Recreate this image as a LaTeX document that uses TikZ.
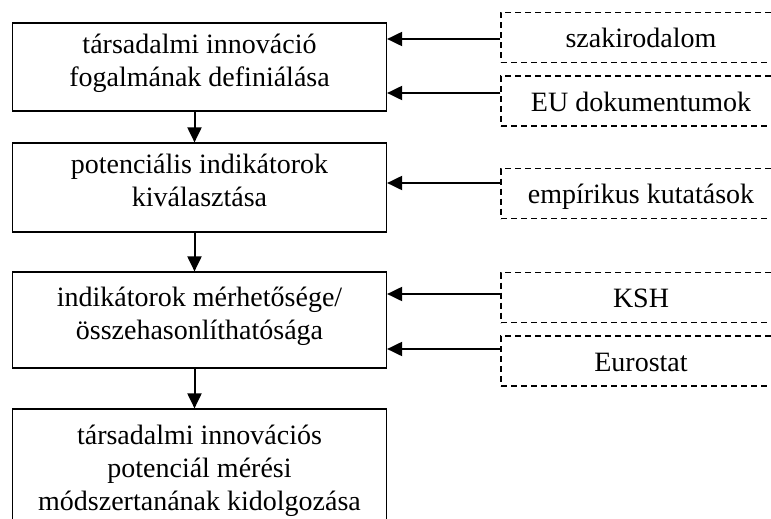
\documentclass[tikz,border=0pt]{standalone}
\usepackage{fontspec}
\setmainfont{Liberation Serif}
\usetikzlibrary{arrows.meta}
\tikzset{
  stepbox/.style={draw,line width=1.2pt,minimum width=374pt,inner sep=0pt,align=center,
    font=\fontsize{28}{33}\selectfont,
    execute at begin node={\rule{0pt}{28pt}},execute at end node={\rule[-14pt]{0pt}{14pt}}},
  srcbox/.style={draw,line width=1.2pt,dash pattern=on 6pt off 4pt,minimum width=280pt,
    minimum height=50pt,inner sep=0pt,font=\fontsize{28}{33}\selectfont,
    execute at begin node={\rule{0pt}{28pt}},execute at end node={\rule[-8pt]{0pt}{8pt}}},
  flow/.style={line width=2pt,-{Triangle[length=15pt,width=14pt]}}
}
\begin{document}
\begin{tikzpicture}[x=1pt,y=-1pt]
  \useasboundingbox (0,0) rectangle (771,519);
  \clip (0,0) rectangle (771,519);
  % steps
  \node[stepbox,minimum height=88pt] (def) at (199.5,67) {társadalmi innováció\\fogalmának definiálása};
  \node[stepbox,minimum height=89pt] (sel) at (199.5,187.5) {potenciális indikátorok\\kiválasztása};
  \node[stepbox,minimum height=96pt] (meas) at (199.5,320) {indikátorok mérhetősége/\\összehasonlíthatósága};
  \node[stepbox,minimum height=131pt] (meth) at (199.5,474.5) {társadalmi innovációs\\potenciál mérési\\módszertanának kidolgozása};
  % sources
  \node[srcbox] (lit) at (641,37.5) {szakirodalom};
  \node[srcbox] (eu) at (641,101) {EU dokumentumok};
  \node[srcbox] (emp) at (641,193.5) {empírikus kutatások};
  \node[srcbox] (ksh) at (641,297.5) {KSH};
  \node[srcbox] (euro) at (641,361) {Eurostat};
  % arrows
  \draw[flow] ([xshift=-5pt]def.south) -- ([xshift=-5pt]sel.north);
  \draw[flow] ([xshift=-5pt]sel.south) -- ([xshift=-5pt]meas.north);
  \draw[flow] ([xshift=-5pt]meas.south) -- ([xshift=-5pt]meth.north);
  \draw[flow] (lit.west |- 0,39) -- (def.east |- 0,39);
  \draw[flow] (eu.west |- 0,93) -- (def.east |- 0,93);
  \draw[flow] (emp.west |- 0,183) -- (sel.east |- 0,183);
  \draw[flow] (ksh.west |- 0,294) -- (meas.east |- 0,294);
  \draw[flow] (euro.west |- 0,349) -- (meas.east |- 0,349);
\end{tikzpicture}
\end{document}
